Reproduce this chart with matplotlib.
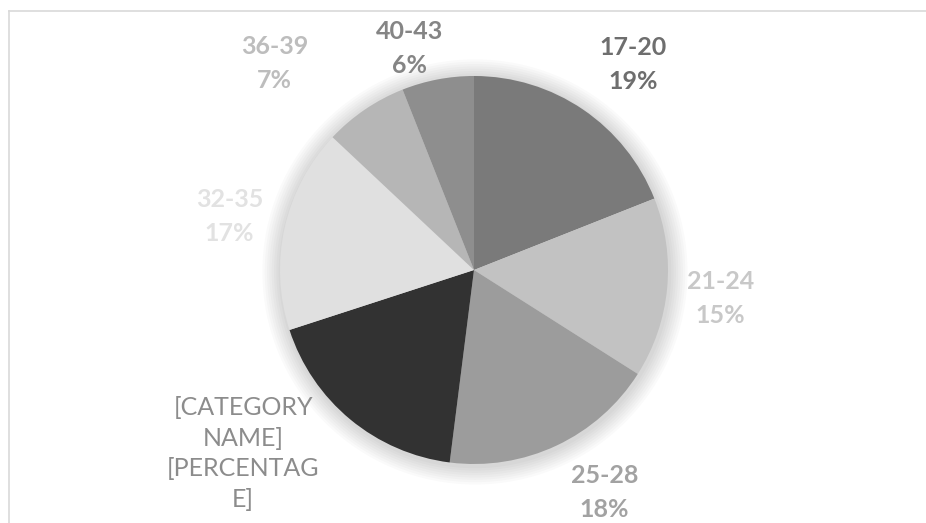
import numpy as np
import matplotlib
matplotlib.use("Agg")
import matplotlib.pyplot as plt
from matplotlib.lines import Line2D
from matplotlib.patches import Circle

# ---------------------------------------------
# Datos
# ---------------------------------------------
categorias = ["17-20", "21-24", "25-28", "[CATEGORY\nNAME]\n[PERCENTAG\nE]",
              "32-35", "36-39", "40-43"]
porcentajes = [19, 15, 18, 18, 17, 7, 6]
etiquetas_pct = ["19%", "15%", "18%", None, "17%", "7%", "6%"]

# colores de los sectores y de sus etiquetas
colores = ["#7a7a7a", "#c2c2c2", "#9c9c9c", "#323232", "#e0e0e0", "#b6b6b6", "#8e8e8e"]
colores_txt = ["#6e6e6e", "#c8c8c8", "#a2a2a2", "#8c8c8c", "#e2e2e2", "#bdbdbd", "#858585"]

# posicion de cada etiqueta: distancia (en radios) y ajuste de angulo (grados)
dist_etq = [1.34, 1.28, 1.33, 1.52, 1.29, 1.48, 1.19]
ajuste_ang = [3.6, 1.1, -5.2, 11.9, -0.2, -9.8, -5.5]

# ---------------------------------------------
# Figura
# ---------------------------------------------
plt.rcParams["font.family"] = ["Lato", "DejaVu Sans"]

fig = plt.figure(figsize=(9.26, 5.23), dpi=100)
ax = fig.add_axes([0, 0, 1, 1])
ax.axis("off")

# sombra suave alrededor del pastel
for i in range(8):
    ax.add_patch(Circle((0.005, -0.01), 1.0 + 0.012 * (i + 1), color="black",
                        alpha=0.018, lw=0, zorder=0))

cunas, _ = ax.pie(porcentajes, colors=colores, startangle=90, counterclock=False,
                  radius=1.0, wedgeprops=dict(linewidth=0), normalize=True)

# limites: radio = 194 px, centro en (474, 270) px
ax.set_xlim(-474 / 194, (926 - 474) / 194)
ax.set_ylim(-253 / 194, 270 / 194)
ax.set_aspect("equal")

# etiquetas
total = sum(porcentajes)
acum = 0
for i, (cat, pct) in enumerate(zip(categorias, porcentajes)):
    medio = (acum + pct / 2) / total * 360 + ajuste_ang[i]
    acum += pct
    ang = np.deg2rad(medio)
    x = dist_etq[i] * np.sin(ang)
    y = dist_etq[i] * np.cos(ang)
    if etiquetas_pct[i] is None:
        ax.text(x, y, cat, ha="center", va="center", fontsize=18,
                color=colores_txt[i], linespacing=1.41)
    else:
        ax.text(x, y, cat + "\n" + etiquetas_pct[i], ha="center", va="center",
                fontsize=18, fontweight="bold", color=colores_txt[i],
                linespacing=1.59)

# marco gris claro del area del grafico
fig.add_artist(Line2D([9 / 926, 9 / 926], [0, 1 - 11 / 523], color="#d9d9d9", lw=1.2))
fig.add_artist(Line2D([9 / 926, 1], [1 - 11 / 523, 1 - 11 / 523], color="#d9d9d9", lw=1.2))

fig.savefig("out.png", dpi=100)
